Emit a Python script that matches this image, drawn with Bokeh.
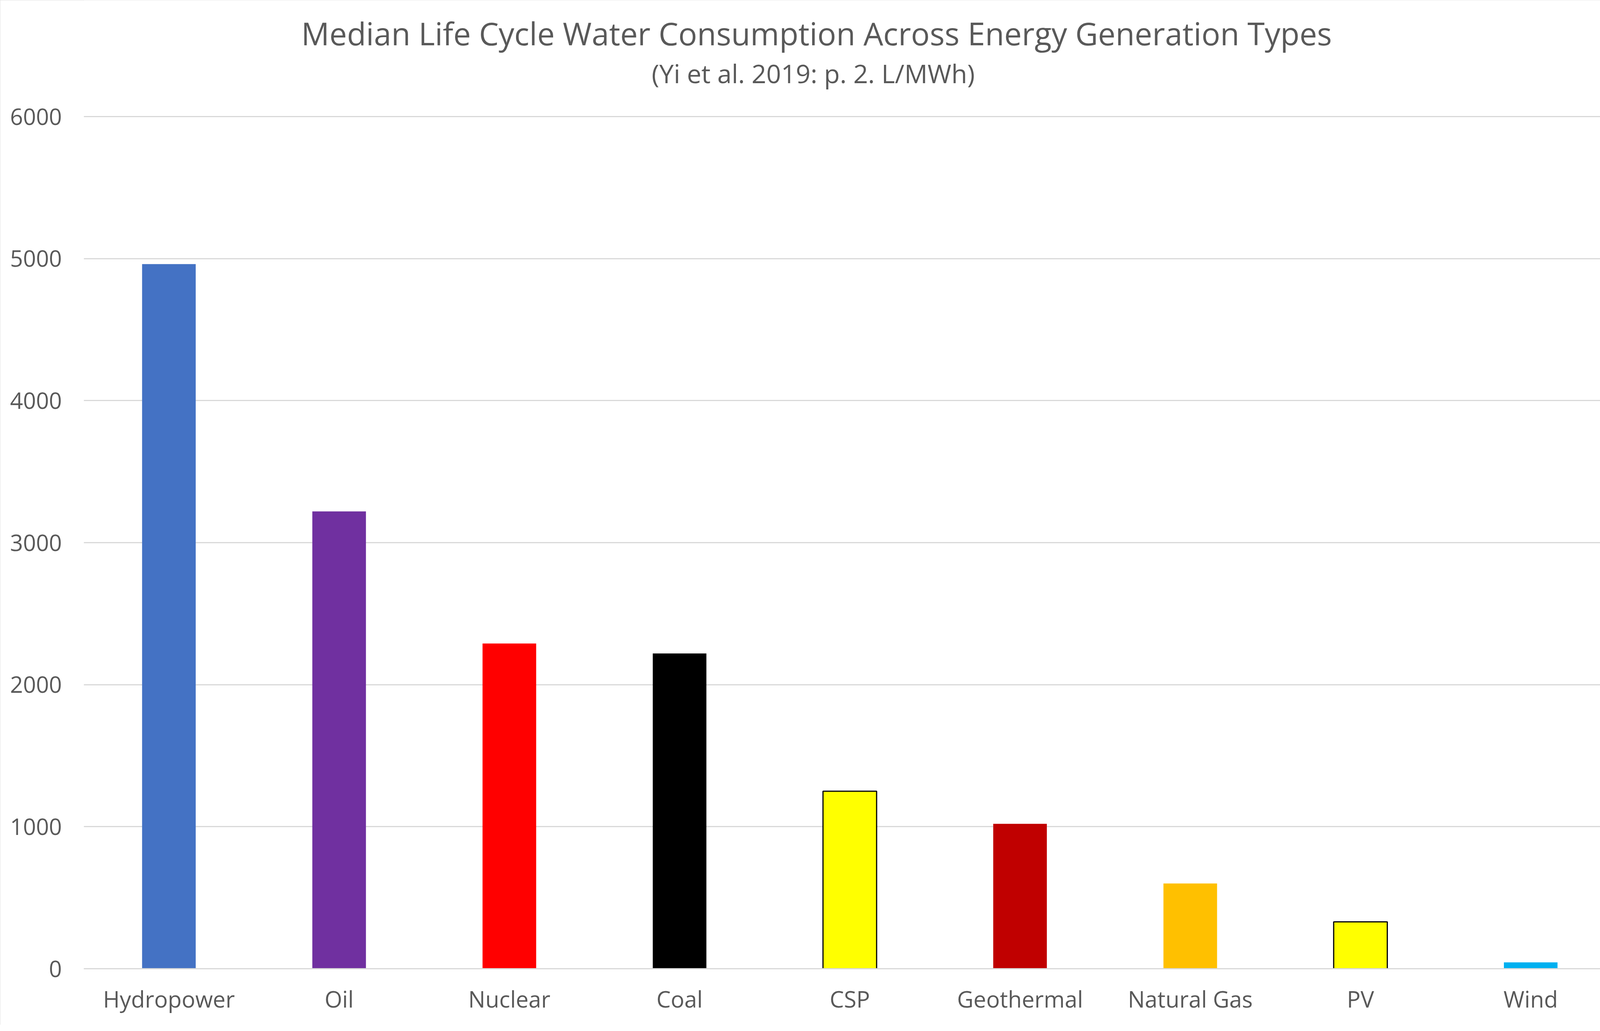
from bokeh.plotting import figure
from bokeh.models import ColumnDataSource, FactorRange, Range1d, FixedTicker, Label
from bokeh.embed import file_html
from bokeh.resources import INLINE

# ---- data ----
categories = ["Hydropower", "Oil", "Nuclear", "Coal", "CSP", "Geothermal", "Natural Gas", "PV", "Wind"]
values = [4961, 3220, 2290, 2220, 1250, 1020, 600, 330, 45]
bar_colors = ["#4472C4", "#7030A0", "#FF0000", "#000000", "#FFFF00", "#C00000", "#FFC000", "#FFFF00", "#00B0F0"]
outline_alpha = [0, 0, 0, 0, 1, 0, 0, 1, 0]
y_ticks = [0, 1000, 2000, 3000, 4000, 5000, 6000]
title_text = "Median Life Cycle Water Consumption Across Energy Generation Types"
subtitle_text = "(Yi et al. 2019: p. 2.  L/MWh)"

TXT = "#595959"
GRID = "#D9D9D9"
FONT = "Open Sans"

# layout geometry (pixels): frame spans from the canvas top down to the category axis;
# the value axis runs 0..6000 over 2182 px, the headroom above 6000 holds the titles
PX_PER_UNIT = 2182 / 6000
FRAME_H = 2480
Y_TOP = FRAME_H / PX_PER_UNIT
CAT_W = 3922 / len(categories)

source = ColumnDataSource(dict(cat=categories, val=values, color=bar_colors, la=outline_alpha))

p = figure(
    width=4182, height=2624,
    x_range=FactorRange(factors=categories, range_padding=0),
    y_range=Range1d(0, Y_TOP),
    output_backend="svg", toolbar_location=None,
    min_border_left=214, min_border_right=46, min_border_top=0, min_border_bottom=144,
)
p.outline_line_color = None
p.background_fill_color = "white"
p.border_fill_color = "white"
p.styles = {"outline": "3px solid #D9D9D9", "outline-offset": "-3px"}

p.vbar(x="cat", top="val", bottom=0, width=0.315, source=source,
       fill_color="color", line_color="black", line_alpha="la", line_width=3)

# grid
p.xgrid.grid_line_color = None
p.ygrid.grid_line_color = GRID
p.ygrid.grid_line_width = 3

# y axis
p.yaxis.ticker = FixedTicker(ticks=y_ticks)
p.yaxis.axis_line_color = None
p.yaxis.major_tick_line_color = None
p.yaxis.minor_tick_line_color = None
p.yaxis.major_label_text_font = FONT
p.yaxis.major_label_text_font_size = "58px"
p.yaxis.major_label_text_color = TXT
p.yaxis.major_label_standoff = 50

# x axis
p.xaxis.axis_line_color = GRID
p.xaxis.axis_line_width = 3
p.xaxis.major_tick_line_color = None
p.xaxis.minor_tick_line_color = None
p.xaxis.major_label_text_font = FONT
p.xaxis.major_label_text_font_size = "58px"
p.xaxis.major_label_text_color = TXT
p.xaxis.major_label_standoff = 31

# titles, centred on the whole chart (x = 2098 px on the page)
title_x = (2098 - 222) / CAT_W
p.add_layout(Label(x=title_x, y=(2488 - 92) / PX_PER_UNIT, text=title_text, text_font=FONT,
                   text_font_size="80px", text_color=TXT, text_align="center",
                   text_baseline="alphabetic"))
p.add_layout(Label(x=title_x, y=(2488 - 194) / PX_PER_UNIT, text=subtitle_text, text_font=FONT,
                   text_font_size="66px", text_color=TXT, text_align="center",
                   text_baseline="alphabetic"))

open("out.html", "w").write(file_html(p, INLINE))
